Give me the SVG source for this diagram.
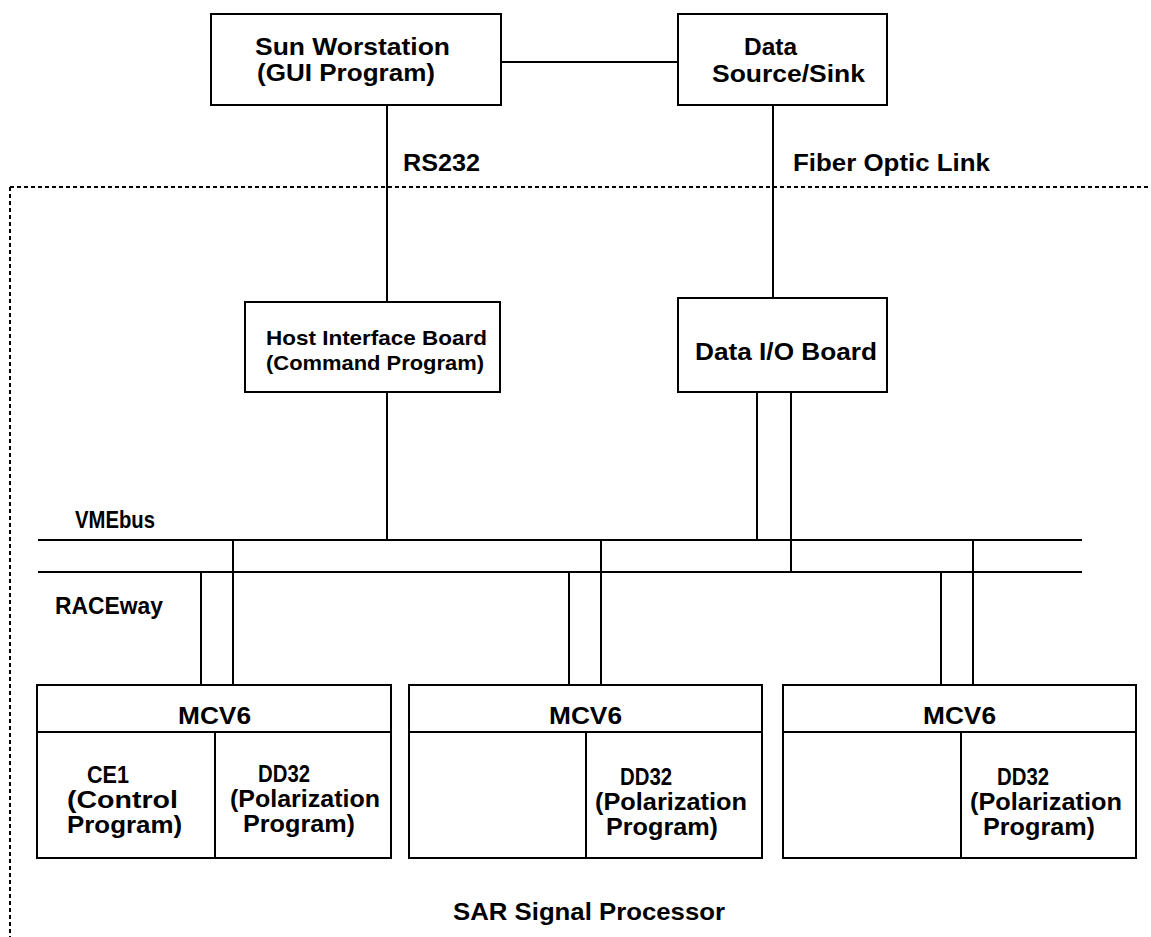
<svg xmlns="http://www.w3.org/2000/svg" width="1151" height="937" viewBox="0 0 1151 937">
<style>
.box{fill:#fff;stroke:#000;stroke-width:2}
.ln{stroke:#000;stroke-width:2;fill:none}
.dot{stroke:#000;stroke-width:2;stroke-dasharray:4 3;fill:none}
text{font-family:"Liberation Sans",Arial,sans-serif;font-weight:bold;font-size:24px;fill:#000}
.s{font-size:21px}
</style>
<rect width="1151" height="937" fill="#fff"/>
<g id="boundary">
<path class="dot" d="M10 187H1151M10 187V937"/>
</g>
<g id="connectors">
<path class="ln" d="M501 62H678"/>
<path class="ln" d="M387 105V302"/>
<path class="ln" d="M773 105V298"/>
<path class="ln" d="M387 392V540"/>
<path class="ln" d="M757 392V540M791 392V572"/>
<path class="ln" d="M38 540H1082M38 572H1082"/>
<path class="ln" d="M201 572V685M233 540V685"/>
<path class="ln" d="M569 572V685M601 540V685"/>
<path class="ln" d="M941 572V685M973 540V685"/>
</g>
<g id="labels">
<text x="403" y="171" textLength="77" lengthAdjust="spacingAndGlyphs">RS232</text>
<text x="793" y="171" textLength="197" lengthAdjust="spacingAndGlyphs">Fiber Optic Link</text>
<text x="75" y="528" textLength="80" lengthAdjust="spacingAndGlyphs">VMEbus</text>
<text x="55" y="614" textLength="108" lengthAdjust="spacingAndGlyphs">RACEway</text>
<text x="453" y="920" textLength="272" lengthAdjust="spacingAndGlyphs">SAR Signal Processor</text>
</g>
<g id="sun">
<rect class="box" x="211" y="14" width="290" height="91"/>
<text x="255" y="55" textLength="195" lengthAdjust="spacingAndGlyphs">Sun Worstation</text>
<text x="257" y="81" textLength="178" lengthAdjust="spacingAndGlyphs">(GUI Program)</text>
</g>
<g id="datasource">
<rect class="box" x="678" y="14" width="209" height="91"/>
<text x="744" y="55" textLength="53" lengthAdjust="spacingAndGlyphs">Data</text>
<text x="712" y="82" textLength="153" lengthAdjust="spacingAndGlyphs">Source/Sink</text>
</g>
<g id="host">
<rect class="box" x="245" y="302" width="255" height="90"/>
<text class="s" x="266" y="345" textLength="221" lengthAdjust="spacingAndGlyphs">Host Interface Board</text>
<text class="s" x="266" y="370" textLength="218" lengthAdjust="spacingAndGlyphs">(Command Program)</text>
</g>
<g id="dataio">
<rect class="box" x="678" y="298" width="209" height="94"/>
<text x="695" y="360" textLength="182" lengthAdjust="spacingAndGlyphs">Data I/O Board</text>
</g>
<g id="mcv1">
<rect class="box" x="37" y="685" width="354" height="173"/>
<path class="ln" d="M37 732H391M215 732V858"/>
<text x="178" y="724" textLength="73" lengthAdjust="spacingAndGlyphs">MCV6</text>
<text x="87" y="783" textLength="42" lengthAdjust="spacingAndGlyphs">CE1</text>
<text x="67" y="808" textLength="111" lengthAdjust="spacingAndGlyphs">(Control</text>
<text x="67" y="833" textLength="115" lengthAdjust="spacingAndGlyphs">Program)</text>
<text x="258" y="782" textLength="52" lengthAdjust="spacingAndGlyphs">DD32</text>
<text x="230" y="807" textLength="150" lengthAdjust="spacingAndGlyphs">(Polarization</text>
<text x="243" y="832" textLength="112" lengthAdjust="spacingAndGlyphs">Program)</text>
</g>
<g id="mcv2">
<rect class="box" x="409" y="685" width="353" height="173"/>
<path class="ln" d="M409 732H762M586 732V858"/>
<text x="549" y="724" textLength="73" lengthAdjust="spacingAndGlyphs">MCV6</text>
<text x="620" y="785" textLength="52" lengthAdjust="spacingAndGlyphs">DD32</text>
<text x="595" y="810" textLength="152" lengthAdjust="spacingAndGlyphs">(Polarization</text>
<text x="606" y="835" textLength="112" lengthAdjust="spacingAndGlyphs">Program)</text>
</g>
<g id="mcv3">
<rect class="box" x="783" y="685" width="353" height="173"/>
<path class="ln" d="M783 732H1136M961 732V858"/>
<text x="923" y="724" textLength="73" lengthAdjust="spacingAndGlyphs">MCV6</text>
<text x="997" y="785" textLength="52" lengthAdjust="spacingAndGlyphs">DD32</text>
<text x="970" y="810" textLength="152" lengthAdjust="spacingAndGlyphs">(Polarization</text>
<text x="983" y="835" textLength="112" lengthAdjust="spacingAndGlyphs">Program)</text>
</g>
</svg>
